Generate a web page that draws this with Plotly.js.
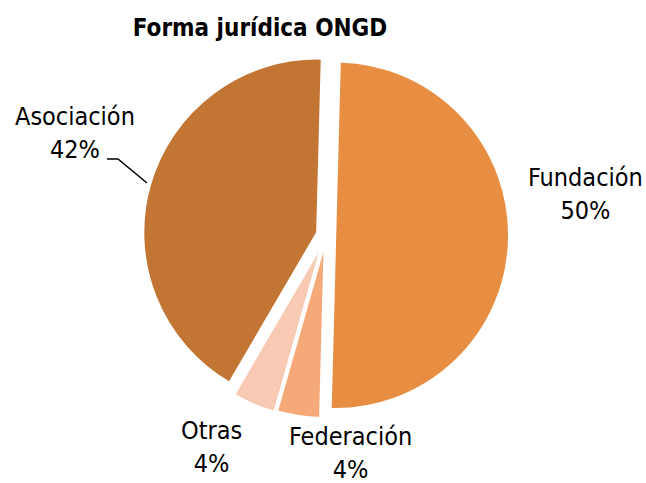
<!DOCTYPE html>
<html>
<head>
<meta charset="utf-8">
<script src="https://cdn.plot.ly/plotly-3.0.1.min.js"></script>
<style>html,body{margin:0;padding:0;background:#fff}#chart{width:646px;height:483px}</style>
</head>
<body>
<div id="chart"></div>
<script>
const categories = ["Fundación", "Federación", "Otras", "Asociación"];
const values = [50, 4, 4, 42];
const sliceColors = ["#E88E42", "#F5A878", "#F8CAB4", "#C37534"];
const chartTitle = "Forma jurídica ONGD";

const W = 646, H = 483;
const FONT = "DejaVu Sans Condensed, DejaVu Sans, sans-serif";
// label block centres (pixels) for each category, in the order above
const labelPos = [[585, 194], [350, 453], [211, 447], [75, 133]];

const total = values.reduce((a, b) => a + b, 0);
const annotations = categories.map((c, i) => ({
  xref: "paper", yref: "paper",
  x: labelPos[i][0] / W, y: 1 - labelPos[i][1] / H,
  xanchor: "center", yanchor: "middle",
  text: c + "<br>" + Math.round(values[i] / total * 100) + "%",
  showarrow: false,
  font: { family: FONT, size: 25, color: "#000" }
}));

const trace = {
  type: "pie",
  labels: categories,
  values: values,
  sort: false,
  direction: "clockwise",
  rotation: 1.5,
  pull: [0.053, 0.053, 0.06, 0.053],
  marker: { colors: sliceColors, line: { color: "#ffffff", width: 2 } },
  textinfo: "none",
  hoverinfo: "label+percent",
  domain: { x: [0.2194, 0.790], y: [0.1319, 0.895] },
  showlegend: false
};

const leader = [[107, 159], [118, 159], [147, 183]];
const layout = {
  width: W, height: H,
  margin: { l: 0, r: 0, t: 0, b: 0 },
  paper_bgcolor: "#ffffff",
  showlegend: false,
  annotations: annotations,
  shapes: [{
    type: "path", xref: "paper", yref: "paper",
    path: "M" + leader.map(p => (p[0] / W) + "," + (1 - p[1] / H)).join(" L"),
    line: { color: "#000", width: 1.5 }
  }],
  title: {
    text: "<b>" + chartTitle + "</b>",
    x: 0.4025, xanchor: "center", y: 0.942, yanchor: "middle",
    font: { family: FONT, size: 24, color: "#000" }
  }
};

Plotly.newPlot("chart", [trace], layout, { displayModeBar: false, staticPlot: true });
</script>
</body>
</html>
